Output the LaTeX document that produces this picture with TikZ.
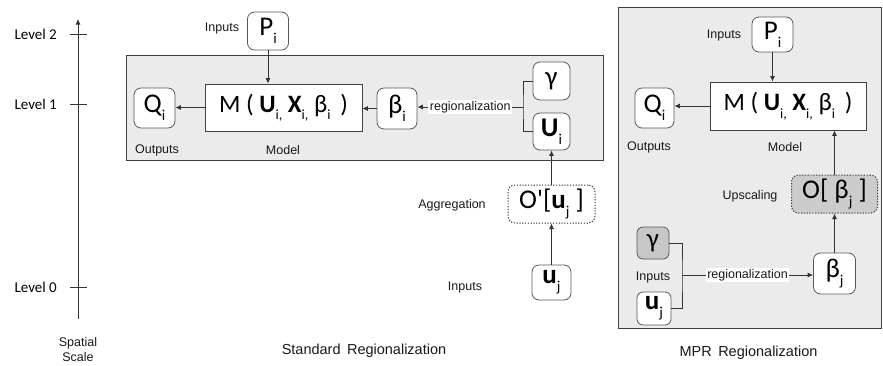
\documentclass[tikz,border=0pt]{standalone}
\usepackage{fontspec}
\setmainfont{Liberation Sans}
\newfontfamily\calib{Carlito}
\usetikzlibrary{arrows.meta}
\newcommand\sbs[1]{\raisebox{-0.3em}{\fontsize{15}{15}\selectfont #1}}
\newcommand\msb[1]{\raisebox{-0.3em}{\fontsize{14}{14}\selectfont #1}}
\begin{document}
\begin{tikzpicture}[x=1pt,y=-1pt,
  lbl/.style={font=\fontsize{12.5}{14}\selectfont, inner sep=1pt, text=black!90},
  lvl/.style={font=\calib\fontsize{15}{17}\selectfont, anchor=east, inner sep=0pt},
  ttl/.style={font=\fontsize{14.5}{16}\selectfont, text=black!90},
  rbox/.style={draw=black!65, fill=white, rounded corners=7pt, line width=0.8pt, inner sep=0pt, font=\calib\fontsize{27}{29}\selectfont},
  mbox/.style={draw=black!75, fill=white, line width=0.8pt, inner sep=0pt, font=\calib\fontsize{25}{27}\selectfont},
  dbox/.style={rbox, dash pattern=on 1.2pt off 1.6pt, line width=1pt, draw=black!80},
  panel/.style={draw=black!75, fill=black!8, line width=0.9pt},
  conn/.style={draw=black!80, line width=0.8pt},
  arr/.style={conn, -{Latex[length=5.5pt,width=5pt]}},
]
\useasboundingbox (0,0) rectangle (883,365);
% panels
\draw[panel] (126,55) rectangle (603,160);
\draw[panel] (618,7) rectangle (881,328);

% spatial axis
\coordinate (ax0) at (78,319);
\coordinate (ax1) at (78,19);
\draw[arr] (ax0) -- (ax1);
\draw[conn] (70,34) -- (87,34);
\draw[conn] (70,104) -- (87,104);
\draw[conn] (70,287) -- (87,287);
\node[lvl] (L2) at (57,34) {Level 2};
\node[lvl] (L1) at (57,104) {Level 1};
\node[lvl] (L0) at (57,287) {Level 0};
\node[lbl, align=center, font=\fontsize{12.5}{15}\selectfont] (sp) at (78,350) {Spatial\\Scale};

% ---------- Standard regionalization ----------
\node[rbox, minimum width=41pt, minimum height=38pt] (Ps) at (268,31) {P\sbs{i}};
\node[mbox, minimum width=157pt, minimum height=47pt] (Ms) at (283.5,107.5) {M ( \textbf{U}\msb{i,} \textbf{X}\msb{i,} β\msb{i} \,)};
\node[rbox, minimum width=41pt, minimum height=40pt] (Qs) at (154.5,108) {Q\sbs{i}};
\node[rbox, minimum width=40pt, minimum height=41pt] (Bs) at (397,108.5) {β\sbs{i}};
\node[rbox, minimum width=37pt, minimum height=38pt] (Gs) at (551.5,81) {γ};
\node[rbox, minimum width=37pt, minimum height=37pt] (Us) at (551.5,131.5) {\textbf{U}\sbs{i}};
\node[dbox, minimum width=87pt, minimum height=38pt] (Os) at (551.5,204) {O'[\textbf{u}\sbs{j} ]};
\node[rbox, minimum width=39pt, minimum height=35pt] (ujs) at (551.5,282.5) {\textbf{u}\sbs{j}};

\node[lbl] (inS) at (222,28) {Inputs};
\node[lbl] (outS) at (157,150) {Outputs};
\node[lbl] (modS) at (283,150) {Model};
\node[lbl] (agg) at (452,205) {Aggregation};
\node[lbl] (in0S) at (465,287) {Inputs};
\node[ttl] (tS) at (364,351) {Standard\, Regionalization};

\coordinate (bS) at (523,107);
\draw[conn] (Gs.west) -| (bS) |- (Us.west);
\draw[arr] (bS) -- node[lbl, fill=white, inner sep=1.5pt, pos=0.5] (regS) {regionalization} (bS -| Bs.east);
\draw[arr] (Bs.west) -- (Bs.west -| Ms.east);
\draw[arr] (Ms.west) -- (Ms.west -| Qs.east);
\draw[arr] (Ps.south) -- (Ps.south |- Ms.north);
\draw[arr] (Os.north) -- (Us.south);
\draw[arr] (ujs.north) -- (Os.south);

% ---------- MPR regionalization ----------
\node[rbox, minimum width=41pt, minimum height=35pt] (Pm) at (772.5,34.5) {P\sbs{i}};
\node[mbox, minimum width=156pt, minimum height=48pt] (Mm) at (788,106) {M ( \textbf{U}\msb{i,} \textbf{X}\msb{i,} β\msb{i} \,)};
\node[rbox, minimum width=39pt, minimum height=40pt] (Qm) at (654.5,108) {Q\sbs{i}};
\node[dbox, fill=black!20, minimum width=86pt, minimum height=38pt] (Om) at (834.5,194) {O[ β\sbs{j} ]};
\node[rbox, minimum width=42pt, minimum height=41pt] (Bj) at (834.5,273.5) {β\sbs{j}};
\node[rbox, fill=black!22, minimum width=32pt, minimum height=32pt, rounded corners=6pt] (Gm) at (653,243) {γ};
\node[rbox, minimum width=34pt, minimum height=33pt, rounded corners=6pt] (ujm) at (654,308.5) {\textbf{u}\sbs{j}};

\node[lbl] (inM) at (724,35) {Inputs};
\node[lbl] (outM) at (649,147) {Outputs};
\node[lbl] (modM) at (785,147) {Model};
\node[lbl] (ups) at (750,196) {Upscaling};
\node[lbl] (in0M) at (653,277) {Inputs};
\node[ttl] (tM) at (748.5,353) {MPR\, Regionalization};

\coordinate (bM) at (682,275);
\draw[conn] (Gm.east) -| (bM) |- (ujm.east);
\draw[arr] (bM) -- node[lbl, fill=white, inner sep=1.5pt, pos=0.5] (regM) {regionalization} (bM -| Bj.west);
\draw[arr] (Bj.north) -- (Om.south);
\draw[arr] (Om.north) -- (Om.north |- Mm.south);
\draw[arr] (Mm.west) -- (Mm.west -| Qm.east);
\draw[arr] (Pm.south) -- (Pm.south |- Mm.north);
\end{tikzpicture}
\end{document}
